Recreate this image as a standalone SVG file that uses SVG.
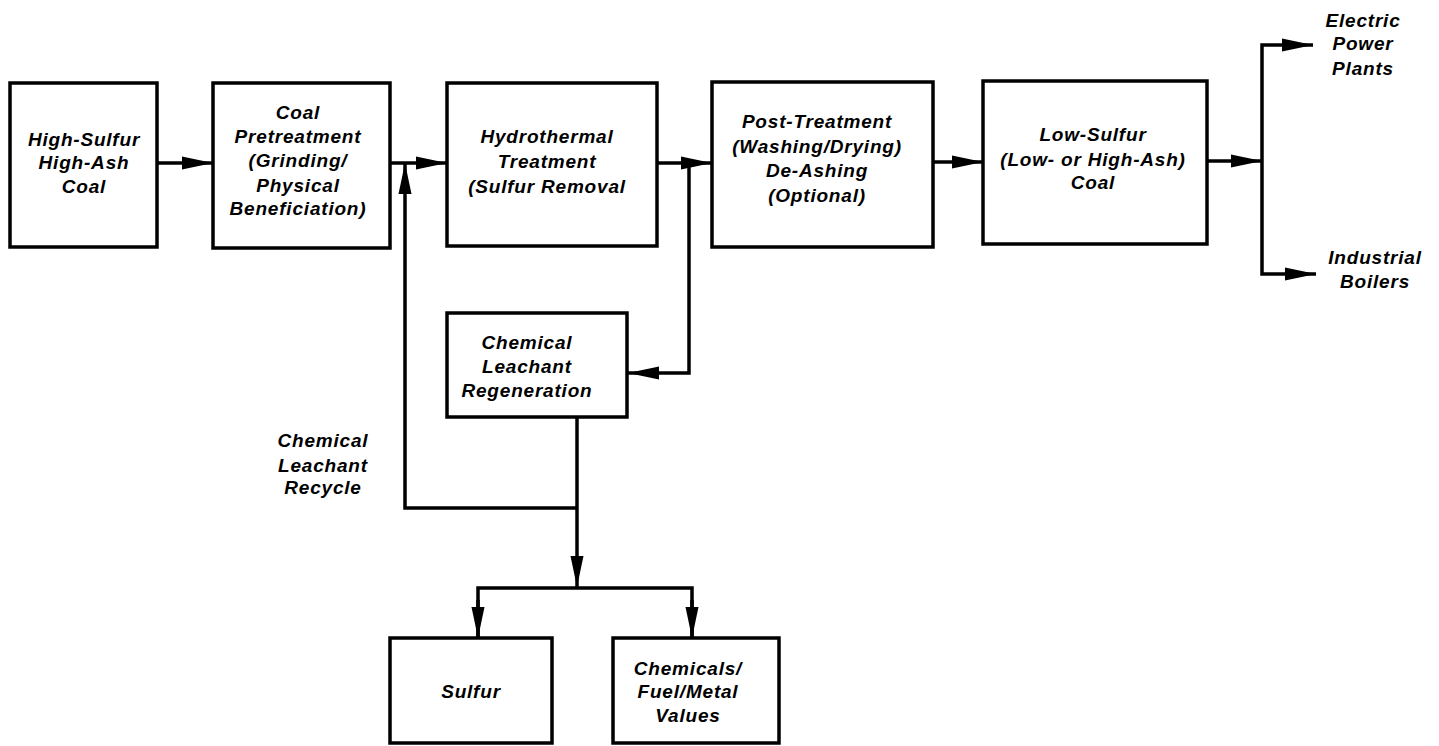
<svg xmlns="http://www.w3.org/2000/svg" width="1439" height="746" viewBox="0 0 1439 746">
<style>
.box{fill:#fff;stroke:#000;stroke-width:3.5}
.ln{fill:none;stroke:#000;stroke-width:3.5}
.t{font-family:"Liberation Sans",Arial,sans-serif;font-weight:bold;font-style:italic;font-size:19px;letter-spacing:0.8px;text-anchor:middle;fill:#000}
</style>
<defs>
<marker id="ah" markerUnits="userSpaceOnUse" markerWidth="32" markerHeight="14" refX="31" refY="7" orient="auto">
<path d="M0,0.5 L31,7 L0,13.5 z" fill="#000"/>
</marker>
</defs>
<rect width="1439" height="746" fill="#fff"/>
<g id="connectors">
<line class="ln" x1="157" y1="163" x2="213" y2="163" marker-end="url(#ah)"/>
<line class="ln" x1="390" y1="163" x2="447" y2="163" marker-end="url(#ah)"/>
<line class="ln" x1="657" y1="163" x2="712" y2="163" marker-end="url(#ah)"/>
<line class="ln" x1="933" y1="162" x2="983" y2="162" marker-end="url(#ah)"/>
<line class="ln" x1="1207" y1="161" x2="1262" y2="161" marker-end="url(#ah)"/>
<polyline class="ln" points="1262,161 1262,45 1313,45" marker-end="url(#ah)"/>
<polyline class="ln" points="1262,161 1262,274 1316,274" marker-end="url(#ah)"/>
<polyline class="ln" points="689,163 689,373 628,373" marker-end="url(#ah)"/>
<polyline class="ln" points="577,508 405,508 405,163" marker-end="url(#ah)"/>
<line class="ln" x1="577" y1="417" x2="577" y2="587" marker-end="url(#ah)"/>
<polyline class="ln" points="478,637 478,588 692,588 692,637"/>
<line class="ln" x1="478" y1="600" x2="478" y2="638" marker-end="url(#ah)"/>
<line class="ln" x1="692" y1="600" x2="692" y2="638" marker-end="url(#ah)"/>
</g>
<g id="n1">
<rect class="box" x="10" y="83" width="147" height="164"/>
<text class="t" x="84" y="146">High-Sulfur</text>
<text class="t" x="84" y="169">High-Ash</text>
<text class="t" x="84" y="193">Coal</text>
</g>
<g id="n2">
<rect class="box" x="213" y="83" width="177" height="165"/>
<text class="t" x="298" y="119">Coal</text>
<text class="t" x="298" y="143">Pretreatment</text>
<text class="t" x="298" y="167">(Grinding/</text>
<text class="t" x="298" y="192">Physical</text>
<text class="t" x="298" y="215">Beneficiation)</text>
</g>
<g id="n3">
<rect class="box" x="447" y="83" width="210" height="163"/>
<text class="t" x="547" y="143">Hydrothermal</text>
<text class="t" x="547" y="168">Treatment</text>
<text class="t" x="547" y="193">(Sulfur Removal</text>
</g>
<g id="n4">
<rect class="box" x="712" y="82" width="221" height="165"/>
<text class="t" x="817" y="128">Post-Treatment</text>
<text class="t" x="817" y="153">(Washing/Drying)</text>
<text class="t" x="817" y="177">De-Ashing</text>
<text class="t" x="817" y="202">(Optional)</text>
</g>
<g id="n5">
<rect class="box" x="983" y="81" width="224" height="163"/>
<text class="t" x="1093" y="141">Low-Sulfur</text>
<text class="t" x="1093" y="166">(Low- or High-Ash)</text>
<text class="t" x="1093" y="189">Coal</text>
</g>
<g id="n6">
<text class="t" x="1363" y="27">Electric</text>
<text class="t" x="1363" y="50">Power</text>
<text class="t" x="1363" y="75">Plants</text>
</g>
<g id="n7">
<text class="t" x="1375" y="264">Industrial</text>
<text class="t" x="1375" y="288">Boilers</text>
</g>
<g id="n8">
<rect class="box" x="447" y="313" width="180" height="104"/>
<text class="t" x="527" y="349">Chemical</text>
<text class="t" x="527" y="373">Leachant</text>
<text class="t" x="527" y="397">Regeneration</text>
</g>
<g id="n9">
<text class="t" x="323" y="447">Chemical</text>
<text class="t" x="323" y="472">Leachant</text>
<text class="t" x="323" y="494">Recycle</text>
</g>
<g id="n10">
<rect class="box" x="390" y="638" width="162" height="105"/>
<text class="t" x="471" y="698">Sulfur</text>
</g>
<g id="n11">
<rect class="box" x="613" y="638" width="166" height="105"/>
<text class="t" x="688" y="675">Chemicals/</text>
<text class="t" x="688" y="698">Fuel/Metal</text>
<text class="t" x="688" y="722">Values</text>
</g>
</svg>
